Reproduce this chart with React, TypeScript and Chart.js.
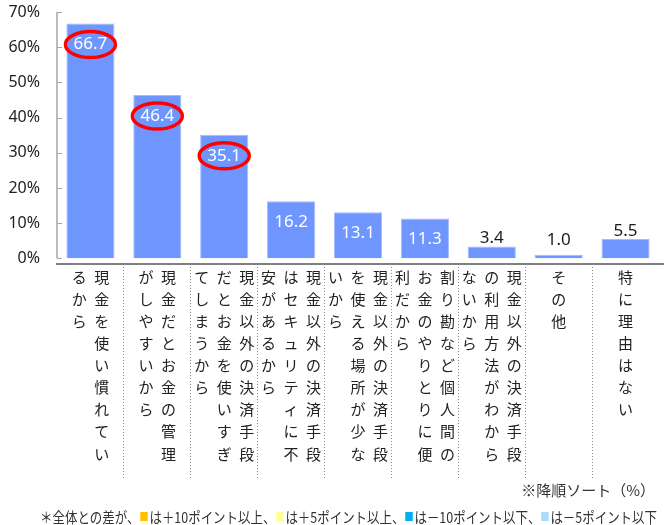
import React, { useEffect, useRef } from "react";
import { Chart, registerables } from "chart.js";

Chart.register(...registerables);

const categories: string[] = [
  "現金を使い慣れているから",
  "現金だとお金の管理がしやすいから",
  "現金以外の決済手段だとお金を使いすぎてしまうから",
  "現金以外の決済手段はセキュリティに不安があるから",
  "現金以外の決済手段を使える場所が少ないから",
  "割り勘など個人間のお金のやりとりに便利だから",
  "現金以外の決済手段の利用方法がわからないから",
  "その他",
  "特に理由はない",
];
const values: number[] = [66.7, 46.4, 35.1, 16.2, 13.1, 11.3, 3.4, 1.0, 5.5];
const highlighted: boolean[] = [true, true, true, false, false, false, false, false, false];
const yTicks: number[] = [0, 10, 20, 30, 40, 50, 60, 70];
const sortNote = "※降順ソート（%）";
const footSegments: { text: string; swatch?: string }[] = [
  { text: "＊全体との差が、" },
  { swatch: "#FFC000", text: "は＋10ポイント以上、" },
  { swatch: "#FFFF99", text: "は＋5ポイント以上、" },
  { swatch: "#00B0F0", text: "は－10ポイント以下、" },
  { swatch: "#A9DCF7", text: "は－5ポイント以下" },
];

const JP = '"Noto Sans CJK JP", "Noto Sans", sans-serif';
const NUM = '"Noto Sans", "DejaVu Sans", sans-serif';

function splitColumns(s: string, n: number): string[] {
  const chars = Array.from(s);
  const cols: string[] = [];
  for (let i = 0; i < chars.length; i += n) cols.push(chars.slice(i, i + n).join(""));
  return cols;
}

const drawPlugin = {
  id: "customDraw",
  afterDraw(chart: any) {
    const ctx: CanvasRenderingContext2D = chart.ctx;
    const xs = chart.scales.x;
    const ys = chart.scales.y;
    const area = chart.chartArea;
    ctx.save();

    // y axis line with inside ticks
    const yTop = ys.getPixelForValue(yTicks[yTicks.length - 1]);
    const yZero = ys.getPixelForValue(0);
    ctx.strokeStyle = "#A6A6A6";
    ctx.lineWidth = 1.5;
    ctx.beginPath();
    ctx.moveTo(area.left, yTop);
    ctx.lineTo(area.left, yZero);
    ctx.stroke();
    ctx.lineWidth = 1;
    yTicks.forEach((v) => {
      const y = Math.round(ys.getPixelForValue(v)) + 0.5;
      ctx.beginPath();
      ctx.moveTo(area.left, y);
      ctx.lineTo(area.left + 5, y);
      ctx.stroke();
    });

    // x axis line
    ctx.strokeStyle = "#808080";
    ctx.lineWidth = 2;
    ctx.beginPath();
    ctx.moveTo(area.left - 1, area.bottom);
    ctx.lineTo(chart.width, area.bottom);
    ctx.stroke();

    // data labels + highlight ellipses
    const meta = chart.getDatasetMeta(0);
    meta.data.forEach((bar: any, i: number) => {
      const v = values[i];
      const inside = v >= 10;
      const cx = bar.x;
      const cy = inside ? bar.y + 21 : Math.min(bar.y - 8, yZero - 18);
      ctx.font = `17px ${NUM}`;
      ctx.textAlign = "center";
      ctx.textBaseline = "middle";
      ctx.fillStyle = inside ? "#FFFFFF" : "#1A1A1A";
      ctx.fillText(v.toFixed(1), cx, cy);
      if (highlighted[i]) {
        ctx.strokeStyle = "#FF0000";
        ctx.lineWidth = 3.5;
        ctx.beginPath();
        ctx.ellipse(cx, cy, 25, 13, 0, 0, Math.PI * 2);
        ctx.stroke();
      }
    });

    // vertical category labels (columns right to left)
    ctx.font = `15px ${JP}`;
    ctx.fillStyle = "#222222";
    ctx.textAlign = "center";
    ctx.textBaseline = "middle";
    categories.forEach((label, i) => {
      const center = xs.getPixelForValue(i);
      const cols = splitColumns(label, 9);
      const n = cols.length;
      cols.forEach((col, j) => {
        const x = center + ((n - 1) / 2 - j) * 22.5;
        Array.from(col).forEach((ch, k) => {
          ctx.fillText(ch, x, area.bottom + 13 + k * 22.1);
        });
      });
    });

    // notes
    ctx.font = `15px ${JP}`;
    ctx.fillStyle = "#333333";
    ctx.textAlign = "right";
    ctx.fillText(sortNote, 655, 490);

    ctx.textAlign = "left";
    ctx.font = `15px ${JP}`;
    let total = 0;
    footSegments.forEach((s) => {
      if (s.swatch) total += 12;
      total += ctx.measureText(s.text).width;
    });
    const startX = 40;
    const targetW = 657 - startX;
    const sx = Math.min(1, targetW / total);
    ctx.save();
    ctx.translate(startX, 0);
    ctx.scale(sx, 1);
    let x = 0;
    footSegments.forEach((s) => {
      if (s.swatch) {
        ctx.fillStyle = s.swatch;
        ctx.fillRect(x + 1, 512, 9, 9);
        x += 12;
      }
      ctx.fillStyle = "#333333";
      ctx.fillText(s.text, x, 517);
      x += ctx.measureText(s.text).width;
    });
    ctx.restore();

    ctx.restore();
  },
};

export default function App() {
  const ref = useRef<HTMLCanvasElement>(null);
  useEffect(() => {
    if (!ref.current) return;
    const chart = new Chart(ref.current, {
      type: "bar",
      data: {
        labels: categories,
        datasets: [
          {
            data: values,
            backgroundColor: "#6F96FF",
            borderColor: "#A3BBFF",
            borderWidth: 1,
            categoryPercentage: 1,
            barPercentage: 0.72,
          },
        ],
      },
      options: {
        animation: false,
        responsive: false,
        devicePixelRatio: 1,
        layout: { padding: { top: 12, right: 5, bottom: 45, left: 0 } },
        plugins: { legend: { display: false }, tooltip: { enabled: false } },
        scales: {
          x: {
            offset: true,
            grid: {
              offset: true,
              display: true,
              drawOnChartArea: false,
              drawTicks: true,
              tickLength: 216,
              tickWidth: 1,
              tickBorderDash: [1, 2],
              tickColor: (c: any) =>
                c.type !== "tick" || c.index === 0 ? "rgba(0,0,0,0)" : "#8C8C8C",
            },
            border: { display: false },
            ticks: { display: false },
          },
          y: {
            min: -1.6,
            max: 70,
            afterBuildTicks: (s: any) => {
              s.ticks = yTicks.map((v) => ({ value: v }));
            },
            afterFit: (s: any) => {
              s.width = 57;
              s.paddingTop = 8;
              s.paddingBottom = 8;
            },
            ticks: {
              callback: (v: any) => `${v}%`,
              font: { family: NUM, size: 16 },
              color: "#222222",
              padding: 17,
            },
            grid: { display: false, drawTicks: false },
            border: { display: false },
          },
        },
      },
      plugins: [drawPlugin],
    });
    return () => chart.destroy();
  }, []);
  return (
    <div style={{ position: "absolute", left: 0, top: 0, width: 664, height: 525, background: "#fff" }}>
      <canvas ref={ref} width={664} height={525} style={{ display: "block" }} />
    </div>
  );
}
